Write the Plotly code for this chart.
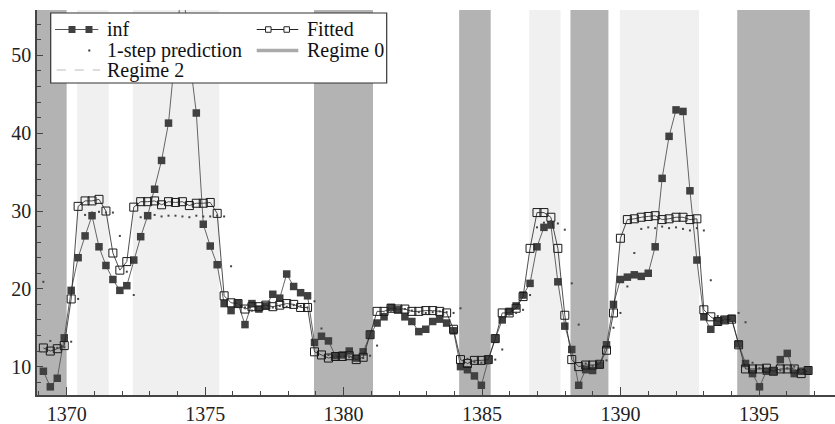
import plotly.graph_objects as go

# ---------------- data ----------------
inf = [9.4, 7.4, 8.5, 13.7, 19.8, 24.0, 26.8, 29.4, 25.4, 23.0,
       21.2, 19.8, 20.4, 23.7, 26.7, 29.4, 32.8, 36.5, 41.3, 50.5,
       60.0, 50.0, 42.6, 28.3, 25.5, 23.1, 18.1, 17.2, 18.1, 15.4,
       18.1, 17.4, 17.8, 19.3, 18.8, 21.9, 20.3, 19.5, 19.1, 13.1,
       13.9, 13.3, 11.4, 11.5, 12.0, 11.1, 11.9, 14.1, 15.6, 16.4,
       17.6, 17.3, 16.4, 15.8, 14.5, 14.8, 15.8, 16.1, 15.6, 14.6,
       10.0, 9.6, 8.8, 7.6, 10.9, 13.6, 16.0, 17.1, 17.8, 19.2,
       20.7, 25.4, 27.9, 28.2, 20.9, 15.2, 12.2, 7.6, 9.6, 9.5,
       10.2, 12.8, 18.0, 21.2, 21.5, 21.8, 21.6, 22.0, 25.4, 34.2,
       39.6, 43.0, 42.8, 32.6, 23.7, 16.4, 14.8, 15.8, 16.0, 16.2,
       12.9, 10.4, 9.1, 7.4, 9.4, 9.4, 10.9, 11.7, 9.1, 9.4, 9.5]

fitted = [12.4, 12.0, 12.3, 12.7, 18.7, 30.6, 31.3, 31.3, 31.5, 30.0,
          24.6, 22.4, 23.5, 30.5, 31.2, 31.2, 31.3, 30.8, 31.2, 31.1,
          31.2, 30.7, 31.0, 31.0, 31.1, 29.7, 19.1, 18.2, 18.1, 17.4,
          17.7, 17.7, 17.9, 17.7, 17.9, 18.1, 18.0, 17.6, 17.6, 11.9,
          11.5, 11.1, 11.3, 11.3, 11.4, 10.9, 11.2, 14.1, 17.1, 17.1,
          17.5, 17.4, 17.4, 17.1, 17.1, 17.2, 17.2, 17.1, 16.9, 14.8,
          10.9, 10.4, 10.8, 10.8, 10.9, 13.6, 16.9, 16.9, 17.5, 19.0,
          25.2, 29.8, 29.8, 29.2, 25.2, 16.6, 10.9, 10.0, 10.2, 10.2,
          10.3, 12.1, 16.9, 26.5, 28.9, 29.0, 29.2, 29.3, 29.4, 28.9,
          29.0, 29.2, 29.2, 28.9, 29.0, 17.3, 16.4, 15.8, 16.0, 16.1,
          12.8, 9.7, 9.7, 9.7, 9.8, 9.4, 9.7, 9.7, 9.7, 9.1, 9.5]

prediction = [20.9, 13.3, 12.4, 12.5, 13.2, 18.7, 29.5, 29.8, 29.9, 29.8,
              29.8, 26.8, 22.2, 19.2, 29.2, 29.4, 29.5, 29.3, 29.4, 29.4,
              29.3, 29.2, 29.4, 29.3, 29.3, 29.4, 29.3, 22.9, 18.0, 17.6,
              17.2, 17.5, 17.7, 17.6, 17.8, 17.7, 17.9, 17.8, 17.6, 18.4,
              14.9, 11.5, 11.2, 11.3, 11.2, 11.3, 11.1, 11.4, 12.7, 16.8,
              17.2, 17.5, 17.4, 17.2, 17.0, 16.9, 17.0, 17.1, 17.0, 16.9,
              17.5, 11.0, 10.6, 10.5, 10.4, 10.9, 12.2, 16.7, 16.9, 17.3,
              19.2, 27.9, 28.5, 28.7, 28.4, 27.6, 20.7, 15.4, 10.4, 10.1,
              10.2, 10.8, 15.0, 16.9, 20.3, 24.6, 27.7, 27.9, 27.8, 28.0,
              27.8, 27.9, 27.7, 27.5, 27.8, 27.5, 21.1, 16.5, 15.9, 16.0,
              16.9, 15.7, 10.5, 9.8, 9.6, 9.7, 9.5, 9.8, 10.0, 9.7, 9.5]

first_period = 1369.16   # time of the first quarterly observation
period_len = 0.251       # one quarter, in years (as drawn)

regime0_start = [1368.5, 1378.93, 1384.17, 1388.19, 1394.21]
regime0_end = [1370.0, 1381.06, 1385.31, 1389.56, 1396.83]
regime2_start = [1370.38, 1372.39, 1386.70, 1389.97]
regime2_end = [1371.52, 1375.51, 1387.83, 1392.83]

x_ticks = [1370, 1375, 1380, 1385, 1390, 1395]
y_ticks = [10, 20, 30, 40, 50]

legend_labels = ["inf", "Fitted", "1-step prediction", "Regime 0", "Regime 2"]

# ---------------- figure ----------------
t = [first_period + period_len * k for k in range(len(inf))]

FONT = "Liberation Serif, Times New Roman, serif"
W, H = 835, 424
ML, MR, MT, MB = 37, 0, 10, 29
PW, PH = W - ML - MR, H - MT - MB

def pxx(px):
    return (px - ML) / PW

def pxy(py):
    return (H - MB - py) / PH

fig = go.Figure()

fig.add_trace(go.Scatter(
    x=t, y=inf, mode="lines+markers", name=legend_labels[0],
    line=dict(color="#555555", width=0.9),
    marker=dict(symbol="square", size=7.5, color="#404040"),
    showlegend=False))

fig.add_trace(go.Scatter(
    x=t, y=fitted, mode="lines+markers", name=legend_labels[1],
    line=dict(color="#222222", width=0.8),
    marker=dict(symbol="square-open", size=8, color="#1a1a1a",
                line=dict(width=1, color="#1a1a1a")),
    showlegend=False))

fig.add_trace(go.Scatter(
    x=t, y=prediction, mode="markers", name=legend_labels[2],
    marker=dict(symbol="square", size=2, color="#444444"),
    showlegend=False))

shapes = []
for a, b in zip(regime0_start, regime0_end):
    shapes.append(dict(type="rect", xref="x", yref="paper", x0=a, x1=b,
                       y0=0, y1=1, fillcolor="#b3b3b3", line_width=0,
                       layer="below"))
for a, b in zip(regime2_start, regime2_end):
    shapes.append(dict(type="rect", xref="x", yref="paper", x0=a, x1=b,
                       y0=0, y1=1, fillcolor="#f0f0f0", line_width=0,
                       layer="below"))

# ---- custom legend (box, samples, labels) ----
shapes.append(dict(type="rect", xref="paper", yref="paper",
                   x0=pxx(50.7), x1=pxx(386.7), y0=pxy(83), y1=pxy(13),
                   fillcolor="white", line=dict(color="#333333", width=1.2),
                   layer="above"))

def hline(x0, x1, y, color, width, dash="solid"):
    shapes.append(dict(type="line", xref="paper", yref="paper",
                       x0=pxx(x0), x1=pxx(x1), y0=pxy(y), y1=pxy(y),
                       line=dict(color=color, width=width, dash=dash),
                       layer="above"))

def sq(cx, cy, s, fill, edge, ew):
    shapes.append(dict(type="rect", xref="paper", yref="paper",
                       x0=pxx(cx - s / 2), x1=pxx(cx + s / 2),
                       y0=pxy(cy + s / 2), y1=pxy(cy - s / 2),
                       fillcolor=fill, line=dict(color=edge, width=ew),
                       layer="above"))

r1, r2, r3 = 29.5, 50.5, 70.0
hline(55, 98.3, r1, "#555555", 1)
sq(72, r1, 7, "#404040", "#404040", 0)
sq(89, r1, 7, "#404040", "#404040", 0)
hline(256.7, 298.3, r1, "#222222", 1)
sq(268.3, r1, 5.5, "white", "#222222", 1)
sq(286.7, r1, 5.5, "white", "#222222", 1)
sq(89.3, r2, 2, "#333333", "#333333", 0)
hline(256.7, 298.3, r2, "#aaaaaa", 3.5)
hline(56.7, 100, r3, "#dddddd", 2, "dash")

annotations = []
for label, xpx, ypx in [(legend_labels[0], 105, r1), (legend_labels[1], 305, r1),
                        (legend_labels[2], 105, r2), (legend_labels[3], 305, r2),
                        (legend_labels[4], 105, r3)]:
    annotations.append(dict(text=label, xref="paper", yref="paper",
                            x=pxx(xpx), y=pxy(ypx), xanchor="left",
                            yanchor="middle", showarrow=False,
                            font=dict(family=FONT, size=20, color="#111111")))

axis_common = dict(showgrid=False, zeroline=False, showline=True,
                   linecolor="#444444", linewidth=1.5, ticks="inside",
                   tickcolor="#444444", tickwidth=1,
                   tickfont=dict(family=FONT, size=20, color="#222222"))

fig.update_layout(
    width=W, height=H,
    margin=dict(l=ML, r=MR, t=MT, b=MB, autoexpand=False),
    paper_bgcolor="white", plot_bgcolor="white",
    shapes=shapes, annotations=annotations,
    xaxis=dict(range=[1368.93, 1397.74], tickmode="array", tickvals=x_ticks,
               ticklen=8, automargin=False,
               minor=dict(dtick=1, tick0=1370, ticks="inside", ticklen=4,
                          tickcolor="#444444"),
               **axis_common),
    yaxis=dict(range=[6.35, 55.84], tickmode="array", tickvals=y_ticks,
               ticklen=6, automargin=False,
               minor=dict(dtick=2, tick0=0, ticks="inside", ticklen=4,
                          tickcolor="#444444"),
               **axis_common),
)

fig.write_html(
    "out.html",
    config={"displayModeBar": False},
    post_script="document.body.style.margin='0';document.body.style.padding='0';",
)
